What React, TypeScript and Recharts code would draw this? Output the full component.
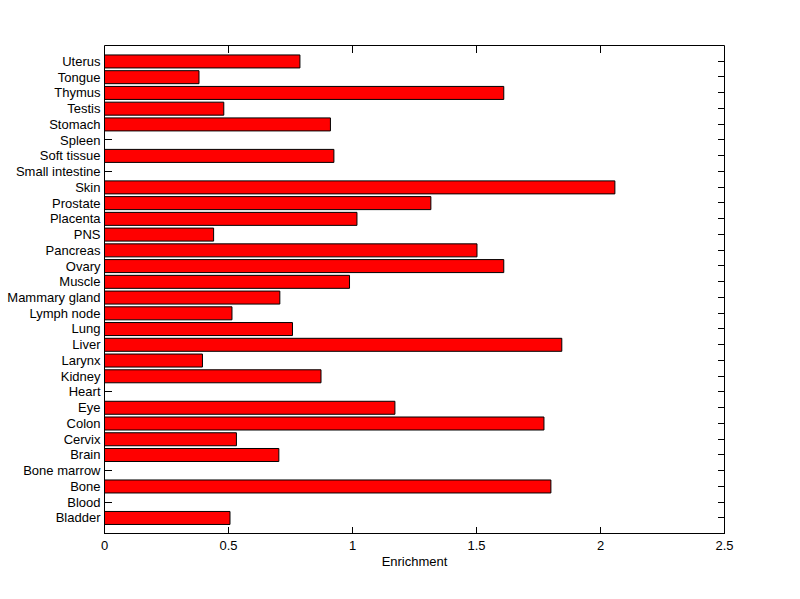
import React from 'react';
import { BarChart, Bar, XAxis, YAxis, Label } from 'recharts';

const tissues = [
  'Bladder', 'Blood', 'Bone', 'Bone marrow', 'Brain', 'Cervix', 'Colon', 'Eye', 'Heart', 'Kidney',
  'Larynx', 'Liver', 'Lung', 'Lymph node', 'Mammary gland', 'Muscle', 'Ovary', 'Pancreas', 'PNS',
  'Placenta', 'Prostate', 'Skin', 'Small intestine', 'Soft tissue', 'Spleen', 'Stomach', 'Testis',
  'Thymus', 'Tongue', 'Uterus',
];
const enrichment = [
  0.506, 0, 1.8, 0, 0.703, 0.532, 1.772, 1.171, 0, 0.873,
  0.395, 1.844, 0.758, 0.514, 0.707, 0.988, 1.61, 1.502, 0.44,
  1.018, 1.316, 2.058, 0, 0.925, 0, 0.911, 0.481,
  1.61, 0.381, 0.788,
];
const xTicks = [0, 0.5, 1, 1.5, 2, 2.5];

const data = tissues.map((t, i) => ({ tissue: t, value: enrichment[i] }));
const valueOf: Record<string, number> = {};
data.forEach((d) => {
  valueOf[d.tissue] = d.value;
});

const FONT = '"Liberation Sans", Arial, Helvetica, sans-serif';
const PAD = 488 / 31 / 2;

// Left tick: label outside, inward tick mark (hidden behind the bar in the original,
// so only shown where the bar is empty)
const LeftLabel = (props: any) => {
  const x = Number(props.x);
  const y = Number(props.y);
  const name = props.payload.value;
  const showTick = !(valueOf[name] > 0);
  return (
    <g>
      <text x={x} y={y} dy="0.355em" textAnchor="end" fontSize={13} fontFamily={FONT} fill="#000">
        {name}
      </text>
      {showTick && (
        <line x1={x + 4} x2={x + 11} y1={y} y2={y} stroke="#000" strokeWidth={1} shapeRendering="crispEdges" />
      )}
    </g>
  );
};

const BottomLabel = (props: any) => {
  const x = Number(props.x);
  const y = Number(props.y);
  return (
    <g>
      <text x={x} y={y} dy="0.71em" textAnchor="middle" fontSize={13} fontFamily={FONT} fill="#000">
        {props.payload.value}
      </text>
      <line x1={x} x2={x} y1={y - 7} y2={y - 14} stroke="#000" strokeWidth={1} shapeRendering="crispEdges" />
    </g>
  );
};

const RightTickLine = (props: any) => {
  const x = Number(props.x);
  const y = Number(props.y);
  return <line x1={x} x2={x - 7} y1={y} y2={y} stroke="#000" strokeWidth={1} shapeRendering="crispEdges" />;
};

const TopTickLine = (props: any) => {
  const x = Number(props.x);
  const y = Number(props.y);
  return <line x1={x} x2={x} y1={y} y2={y + 7} stroke="#000" strokeWidth={1} shapeRendering="crispEdges" />;
};

export default function App() {
  return (
    <div style={{ position: 'absolute', left: 0, top: 0, width: 800, height: 599, background: '#fff' }}>
      <BarChart
        width={800}
        height={599}
        data={data}
        layout="vertical"
        margin={{ top: 0.5, left: 0.5, right: 0, bottom: 0 }}
        barCategoryGap="10%"
      >
        <XAxis
          xAxisId="top"
          orientation="top"
          type="number"
          domain={[0, 2.5]}
          ticks={xTicks}
          height={45}
          tickSize={0}
          tickMargin={0}
          axisLine={{ stroke: '#000' }}
          tickLine={false}
          tick={<TopTickLine />}
          allowDataOverflow
        />
        <XAxis
          type="number"
          domain={[0, 2.5]}
          ticks={xTicks}
          height={65.5}
          tickSize={0}
          tickMargin={7}
          axisLine={{ stroke: '#000' }}
          tickLine={false}
          tick={<BottomLabel />}
          allowDataOverflow
        >
          <Label
            value="Enrichment"
            position="insideTop"
            offset={23}
            style={{ fontSize: 13, fontFamily: FONT, fill: '#000' }}
          />
        </XAxis>
        <YAxis
          type="category"
          dataKey="tissue"
          width={104}
          reversed
          padding={{ top: PAD, bottom: PAD }}
          tickSize={0}
          tickMargin={4}
          interval={0}
          axisLine={{ stroke: '#000' }}
          tickLine={false}
          tick={<LeftLabel />}
        />
        <YAxis
          yAxisId="right"
          orientation="right"
          type="category"
          dataKey="tissue"
          width={75.5}
          reversed
          padding={{ top: PAD, bottom: PAD }}
          tickSize={0}
          tickMargin={0}
          interval={0}
          axisLine={{ stroke: '#000' }}
          tickLine={false}
          tick={<RightTickLine />}
        />
        <Bar dataKey="value" fill="#ff0000" stroke="#000" strokeWidth={1} isAnimationActive={false} />
      </BarChart>
    </div>
  );
}
